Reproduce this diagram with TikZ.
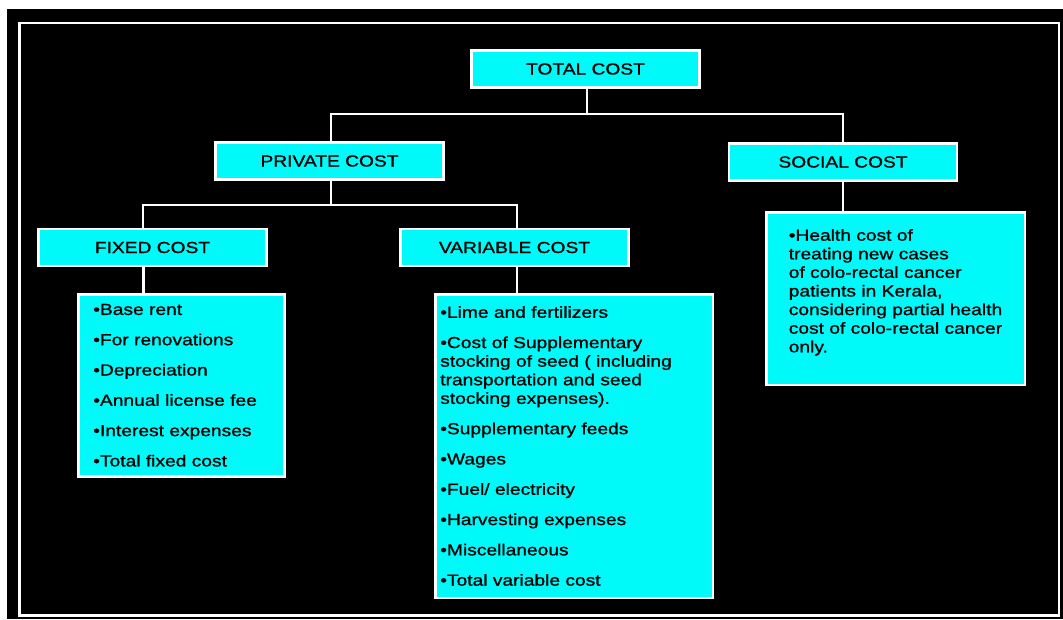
\documentclass[tikz,border=0pt]{standalone}
\usepackage{fontspec}
\setmainfont{Liberation Sans}[FakeStretch=1.2,FakeBold=1]
\definecolor{boxcyan}{RGB}{0,250,250}
\hyphenpenalty=10000
\begin{document}
\begin{tikzpicture}[x=1pt,y=-1pt,line width=2.5pt,
  head/.style={draw=white,fill=boxcyan,minimum width=228pt,minimum height=37pt,inner sep=0pt,
    font=\fontsize{16}{18.6}\selectfont},
  list/.style={draw=white,fill=boxcyan,align=left,anchor=north west,inner ysep=0pt,
    font=\fontsize{16}{18.6}\selectfont},
  link/.style={draw=white}]
% frame
\useasboundingbox (0,0) rectangle (1063,619);
\fill[white] (0,0) rectangle (1063,619);
\fill[black] (7,9) rectangle (1063,619);
\draw[white] (19.5,23) rectangle (1059,615.5);
% headings
\foreach \n/\x/\y/\t in {total/585.5/69/TOTAL COST, private/329.5/161/PRIVATE COST,
  social/843/162/SOCIAL COST, fixed/152.5/247.5/FIXED COST, variable/514.5/247.5/VARIABLE COST}
  \node[head] (\n) at (\x,\y) {\t};
% lists
\node[list,inner xsep=15pt,text width=176pt,minimum height=182pt] (fixedlist) at (77,293)
  {•Base rent\\[11.7pt]•For renovations\\[11.7pt]•Depreciation\\[11.7pt]•Annual license fee\\[11.7pt]%
   •Interest expenses\\[11.7pt]•Total fixed cost};
\node[list,inner xsep=5pt,text width=267.5pt,minimum height=303.5pt] (varlist) at (434,293)
  {•Lime and fertilizers\\[11.7pt]•Cost of Supplementary\\stocking of seed ( including\\transportation and seed\\stocking expenses).\\[11.7pt]%
   •Supplementary feeds\\[11.7pt]•Wages\\[11.7pt]•Fuel/ electricity\\[11.7pt]•Harvesting expenses\\[11.7pt]%
   •Miscellaneous\\[11.7pt]•Total variable cost};
\node[list,inner xsep=0pt,minimum width=258.5pt,minimum height=172.5pt] (sociallist) at (765,211)
  {•Health cost of\\treating new cases\\of colo-rectal cancer\\patients in Kerala,\\considering partial health\\cost of colo-rectal cancer\\only.\\[-3pt]\mbox{}};
% connectors
\coordinate (tbus) at (587,114);
\coordinate (pbus) at (331,205);
\draw[link] (total.south -| tbus) -- (tbus);
\draw[link] (private.north -| pbus) |- (tbus) -| (social.north);
\draw[link] (private.south -| pbus) -- (pbus);
\draw[link] ([xshift=-9.5pt]fixed.north) |- (pbus) -| ([xshift=2.5pt]variable.north);
\draw[link] ([xshift=-9pt]fixed.south) -- ([xshift=-9pt]fixed.south |- fixedlist.north);
\draw[link] ([xshift=2.5pt]variable.south) -- ([xshift=2.5pt]variable.south |- varlist.north);
\draw[link] (social.south) -- (social.south |- sociallist.north);
\end{tikzpicture}
\end{document}
